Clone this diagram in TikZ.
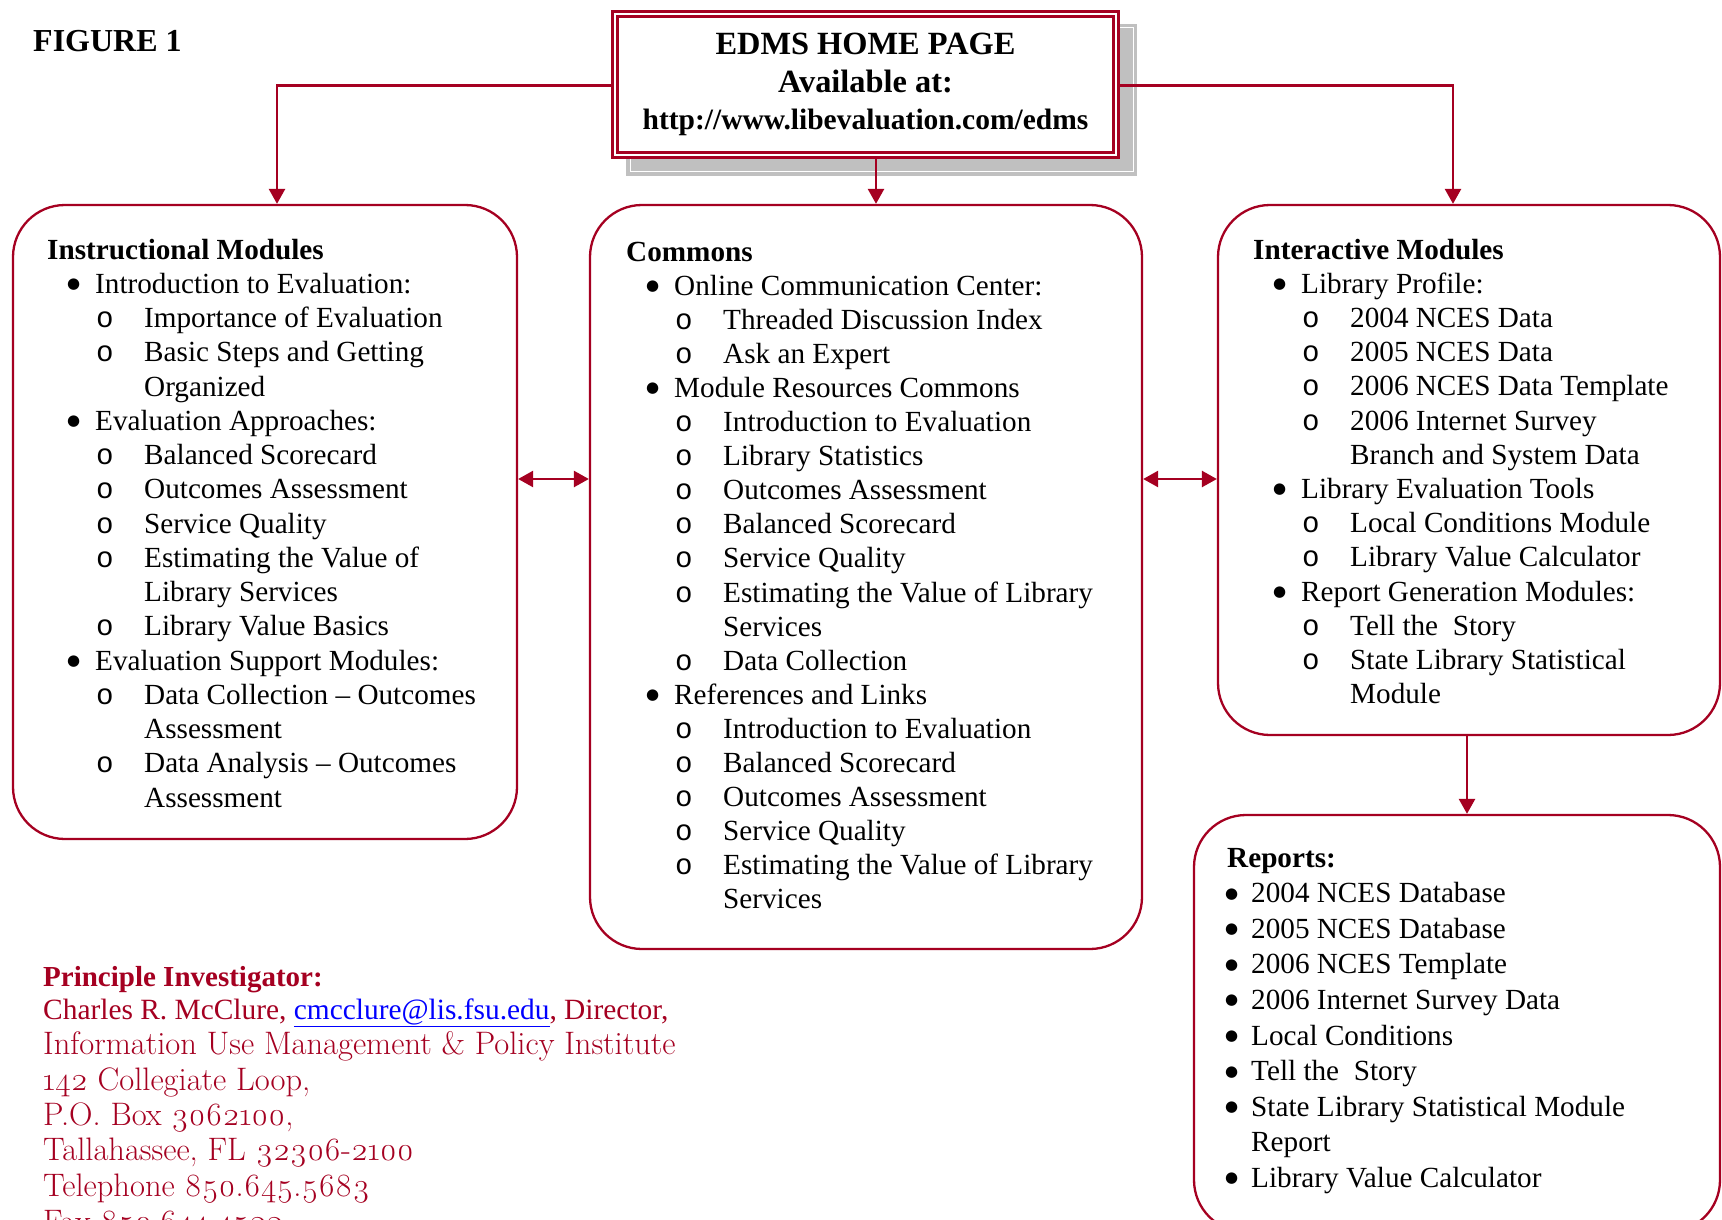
\documentclass[tikz,border=0pt]{standalone}
\usepackage{fontspec}
\setmainfont{Liberation Serif}
\newfontfamily\lmosf{Latin Modern Roman}[Numbers=OldStyle]
\newfontfamily\monoo{Liberation Mono}
\newfontfamily\dvs{DejaVu Sans}
\usetikzlibrary{arrows.meta}
\definecolor{edmsred}{RGB}{165,0,33}
\definecolor{linkblue}{RGB}{0,0,255}
\definecolor{shadowgray}{RGB}{192,192,192}
\tikzset{
  modbox/.style={draw=edmsred, line width=2.3pt, rounded corners=52pt, inner sep=0pt},
  conn/.style={draw=edmsred, line width=2.6pt, -{Triangle[length=15pt,width=16pt]}},
  dconn/.style={draw=edmsred, line width=2.6pt, {Triangle[length=15pt,width=16pt]}-{Triangle[length=15pt,width=16pt]}},
  txt/.style={anchor=base west, inner sep=0pt, font=\fontsize{29.2}{34}\selectfont},
  bul/.style={anchor=base west, inner sep=0pt, font=\dvs\fontsize{15}{16}\selectfont},
  redtxt/.style={anchor=base west, inner sep=0pt, text=edmsred, font=\fontsize{29.4}{34}\selectfont},
  osftxt/.style={anchor=base west, inner sep=0pt, text=edmsred, font=\lmosf\fontsize{32.5}{37}\selectfont},
}
\newcommand\boxtext[5]{%
  \foreach \k/\ttxt [count=\ii from 0] in {#5} {%
    \ifcase\k \def\tx{0}\or\def\tx{48}\or\def\tx{97}\or\def\tx{97}\or\def\tx{48}\or\def\tx{24}\or\def\tx{24}\fi
    \node[txt] (#1\ii) at ({#2+\tx},{#3+\ii*#4}) {\ifnum\k=0 \bfseries\fi\ttxt};
    \ifnum\k=1 \node[bul] (#1m\ii) at ({#2+20},{#3+\ii*#4-4.5}) {●};\fi
    \ifnum\k=2 \node[txt] (#1m\ii) at ({#2+49},{#3+\ii*#4}) {\monoo o};\fi
    \ifnum\k=5 \node[bul] (#1m\ii) at ({#2-2},{#3+\ii*#4-4.5}) {●};\fi
  }%
}
\begin{document}
\begin{tikzpicture}[x=1pt,y=-1pt]
\fill[white] (0,0) rectangle (1722,1220);
\useasboundingbox (0,0) rectangle (1722,1220);

\node[anchor=base west, inner sep=0pt, font=\bfseries\fontsize{32}{38}\selectfont] (fig) at (33,52) {FIGURE 1};

% home box with shadow
\fill[shadowgray] (626,24) rectangle (1137,176);
\draw[white, line width=1pt] (630,28) rectangle (1133,172);
\node[draw=edmsred, double=white, double distance=2pt, line width=3pt, fill=white,
      minimum width=501pt, minimum height=141pt, inner sep=0pt, outer sep=4pt,
      align=center, font=\bfseries\fontsize{29.5}{37.3}\selectfont] (home) at (865.5,84.5)
      {{\fontsize{32.4}{37.3}\selectfont EDMS HOME PAGE}\\{\fontsize{32.4}{37.3}\selectfont Available at:}\\http://www.libevaluation.com/edms};

% module boxes
\node[modbox, minimum width=504pt, minimum height=634pt] (left) at (265,522) {};
\node[modbox, minimum width=552pt, minimum height=744pt] (center) at (866,577) {};
\node[modbox, minimum width=502pt, minimum height=530pt] (right) at (1469,470) {};
\node[modbox, minimum width=526pt, minimum height=417pt] (reports) at (1457,1023.5) {};

% connectors
\coordinate (midrow) at (0,479);
\draw[conn] ([yshift=-1pt]home.west) -| ([xshift=12pt]left.north);
\draw[conn] ([yshift=-1pt]home.east) -| ([xshift=-16pt]right.north);
\draw[conn] ([xshift=10.5pt]home.south) -- ([xshift=10.5pt]home.south |- center.north);
\draw[dconn] (left.east |- midrow) -- (center.west |- midrow);
\draw[dconn] (center.east |- midrow) -- (right.west |- midrow);
\draw[conn] ([xshift=-2pt]right.south) -- ([xshift=-2pt]right.south |- reports.north);

% box texts
\boxtext{L}{47}{259}{34.25}{0/Instructional Modules,1/Introduction to Evaluation:,2/Importance of Evaluation,2/Basic Steps and Getting,3/Organized,1/Evaluation Approaches:,2/Balanced Scorecard,2/Outcomes Assessment,2/Service Quality,2/Estimating the Value of,3/Library Services,2/Library Value Basics,1/Evaluation Support Modules:,2/Data Collection – Outcomes,3/Assessment,2/Data Analysis – Outcomes,3/Assessment}
\boxtext{C}{626}{261}{34.1}{0/Commons,1/Online Communication Center:,2/Threaded Discussion Index,2/Ask an Expert,1/Module Resources Commons,2/Introduction to Evaluation,2/Library Statistics,2/Outcomes Assessment,2/Balanced Scorecard,2/Service Quality,2/Estimating the Value of Library,3/Services,2/Data Collection,1/References and Links,2/Introduction to Evaluation,2/Balanced Scorecard,2/Outcomes Assessment,2/Service Quality,2/Estimating the Value of Library,3/Services}
\boxtext{R}{1253}{259}{34.2}{0/Interactive Modules,1/Library Profile:,2/2004 NCES Data,2/2005 NCES Data,2/2006 NCES Data Template,2/2006 Internet Survey,3/Branch and System Data,1/Library Evaluation Tools,2/Local Conditions Module,2/Library Value Calculator,1/Report Generation Modules:,2/Tell the~ Story,2/State Library Statistical,3/Module}
\boxtext{P}{1227}{867}{35.6}{0/Reports:,5/2004 NCES Database,5/2005 NCES Database,5/2006 NCES Template,5/2006 Internet Survey Data,5/Local Conditions,5/Tell the~ Story,5/State Library Statistical Module,6/Report,5/Library Value Calculator}

% contact
\node[redtxt, font=\bfseries\fontsize{29}{34}\selectfont] (pi) at (43,986) {Principle Investigator:};
\node[redtxt] (pi1) at (43,1019) {Charles R. McClure, \textcolor{linkblue}{\underline{cmcclure@lis.fsu.edu}}, Director,};
\node[osftxt] (pi2) at (43,1054) {Information Use Management \& Policy Institute};
\node[osftxt] (pi3) at (43,1090) {142 Collegiate Loop,};
\node[osftxt] (pi4) at (43,1125) {P.O. Box 3062100,};
\node[osftxt] (pi5) at (43,1160) {Tallahassee, FL 32306-2100};
\node[osftxt] (pi6) at (43,1196) {Telephone 850.645.5683};
\node[osftxt] (pi7) at (43,1232) {Fax 850.644.4522};
\end{tikzpicture}
\end{document}
